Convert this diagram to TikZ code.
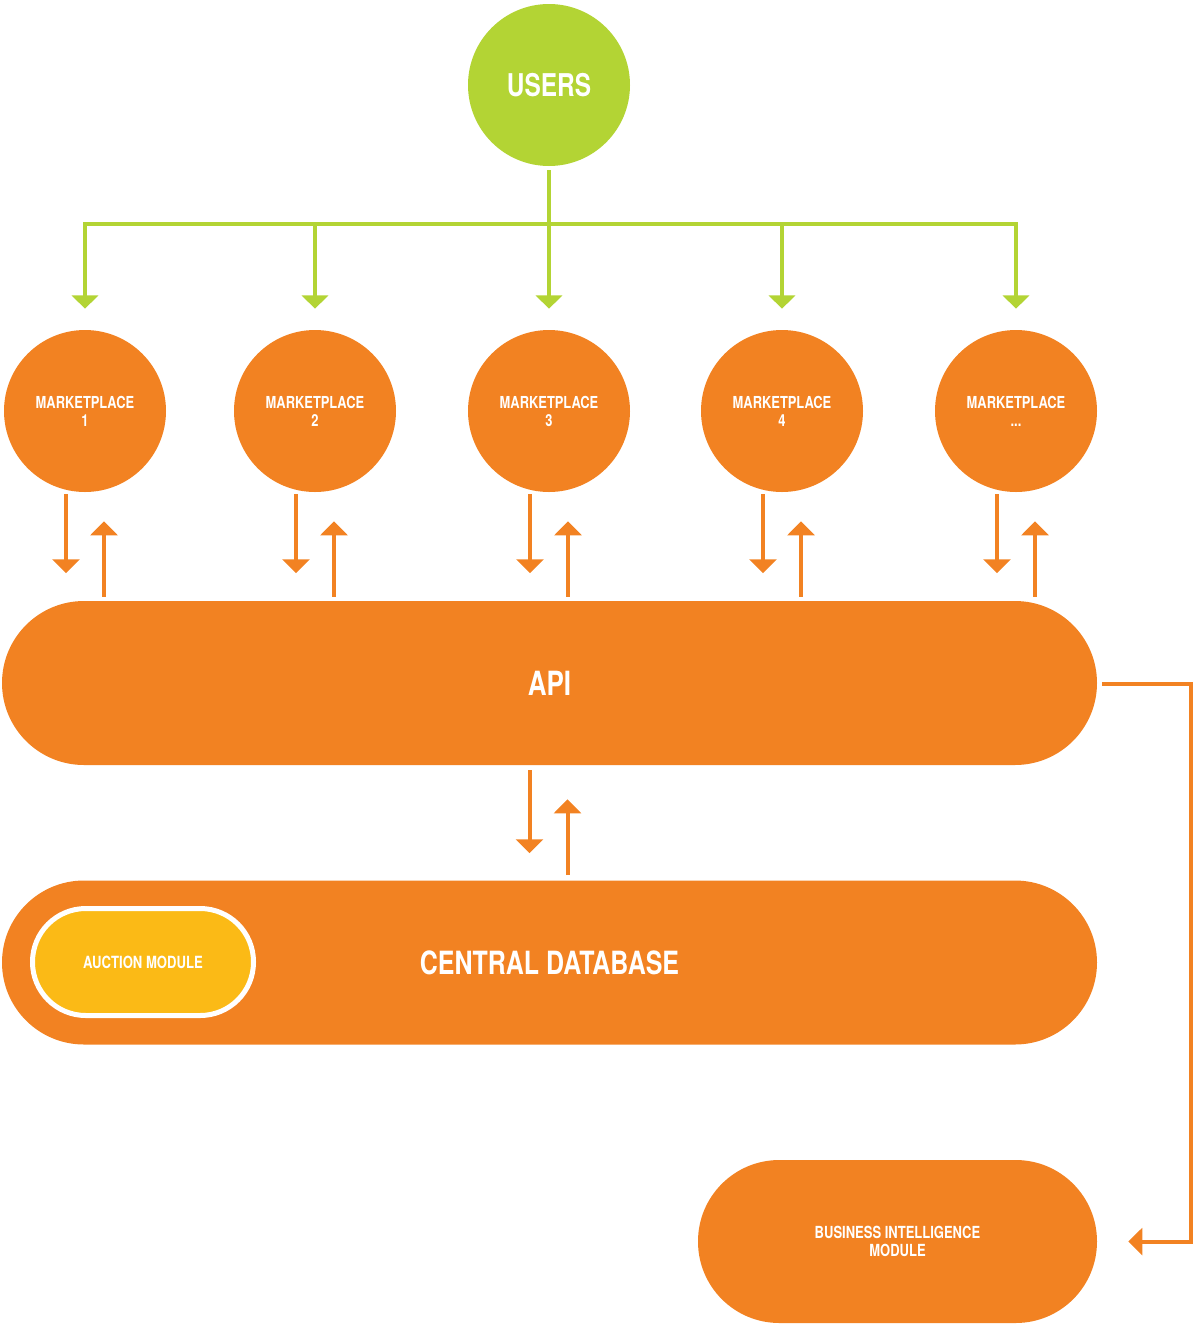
\documentclass[tikz,border=0pt]{standalone}
\usepackage{fontspec}
\setmainfont{TeX Gyre Heros}[FakeStretch=0.78]
\usepackage{tikz}
\usetikzlibrary{arrows.meta,calc}

\definecolor{usergreen}{RGB}{179,212,52}
\definecolor{mporange}{RGB}{242,130,34}
\definecolor{auctionyellow}{RGB}{251,186,22}
\newcommand{\mpdots}{...}

\tikzset{
  mp/.style={circle,fill=mporange,minimum size=121.5pt,inner sep=0pt,text=white,font=\bfseries\fontsize{12.4}{13.5}\selectfont,align=center},
  bigbox/.style={rectangle,rounded corners=61.5pt,fill=mporange,minimum width=821.25pt,minimum height=123pt,text=white,inner sep=0pt,align=center},
  garrow/.style={draw=usergreen,line width=3pt,-{Triangle[width=19.5pt,length=10pt]}},
  gline/.style={draw=usergreen,line width=3pt,line cap=rect},
  oarrow/.style={draw=mporange,line width=3pt,-{Triangle[width=20pt,length=10.5pt]}}
}

\begin{document}
\begin{tikzpicture}[x=0.75pt,y=0.75pt,yscale=-1,xscale=1]
\useasboundingbox (0,0) rectangle (1194,1325);

% Users
\node [circle,fill=usergreen,minimum size=121.5pt,inner sep=0pt,text=white,font=\bfseries\fontsize{23.5}{26}\selectfont] (users) at (549,85) {USERS};
\coordinate (bus) at (549,224);

% Marketplaces
\foreach \i/\x/\lab in {1/85/1,2/315/2,3/549/3,4/782/4,5/1016/\mpdots}
  \node [mp] (m\i) at (\x,411) {MARKETPLACE\\\lab};

% Green lines
\draw [gline] (bus -| m1) -- (bus -| m5);
\draw [garrow] ($(users.south)+(0,4)$) -- ($(m3.north)+(0,-21)$);
\foreach \i in {1,2,4,5}
  \draw [garrow] (bus -| m\i) -- ($(m\i.north)+(0,-21)$);

% API and database
\node [bigbox,font=\bfseries\fontsize{25}{28}\selectfont] (api) at (549.5,683) {API};
\node [bigbox,font=\bfseries\fontsize{24}{28}\selectfont] (db) at (549.5,962.5) {CENTRAL DATABASE};
\node [rectangle,rounded corners=40pt,fill=auctionyellow,draw=white,line width=3.75pt,minimum width=165.75pt,minimum height=80.25pt,text=white,font=\bfseries\fontsize{12.6}{14}\selectfont] (auction) at (143,962) {AUCTION MODULE};
\node [rectangle,rounded corners=61pt,fill=mporange,minimum width=299.25pt,minimum height=122.25pt,text=white,inner sep=0pt,align=center,font=\bfseries\fontsize{12.5}{13.5}\selectfont] (bi) at (897.5,1241.5) {BUSINESS INTELLIGENCE\\MODULE};

% Marketplace <-> API arrows
\foreach \i in {1,2,3,4,5} {
  \draw [oarrow] ($(m\i.south)+(-19,2)$) -- ($(m\i.south)+(-19,81)$);
  \draw [oarrow] ($(m\i.south |- api.north)+(19,-4)$) -- ($(m\i.south)+(19,29)$);
}

% API <-> database arrows
\draw [oarrow] ($(api.south)+(-20,5)$) -- ($(api.south)+(-20,88)$);
\draw [oarrow] ($(db.north)+(18,-5)$) -- ($(api.south)+(18,34)$);

% API -> business intelligence
\coordinate (turn) at (1191,684);
\draw [oarrow] ($(api.east)+(5,1)$) -- (turn) |- ($(bi.east)+(31,0)$);

\end{tikzpicture}
\end{document}
